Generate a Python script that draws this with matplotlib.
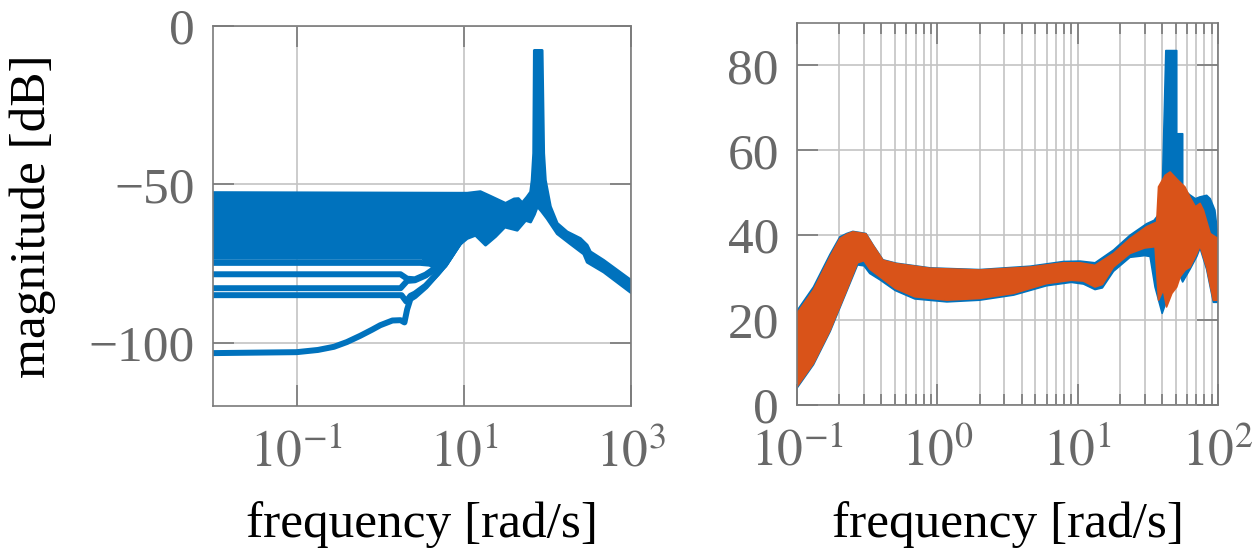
import numpy as np
import matplotlib
matplotlib.use('Agg')
import matplotlib.pyplot as plt
from matplotlib.ticker import FixedLocator, NullLocator, LogLocator

# ---- left panel: magnitude of the whole family of curves ----
# dense band (upper / lower boundary, dB)
band_top_f = [0.01, 8, 11, 15.8, 21, 31.6, 40, 45, 50, 57, 63, 65.6, 68.5, 69.8,
              86.5, 90.3, 94.6, 108.6, 131, 172, 248, 299, 327, 472, 1000]
band_top_db = [-52.6, -52.8, -52.8, -52.3, -53.8, -56.0, -54.6, -54.5, -55.8, -54.0,
               -52.4, -48.7, -40.2, -7.7, -7.7, -40.2, -48.7, -57.0, -62.3, -65.0,
               -67.1, -69.2, -71.3, -74.0, -80.3]
band_bot_f = [0.01, 3.2, 4.8, 6.0, 7.6, 9.0, 11, 13.8, 18.2, 24, 31, 43.6, 55, 63,
              70, 76, 85, 99, 131, 188, 272, 299, 472, 1000]
band_bot_db = [-73.4, -73.4, -77.5, -76.0, -72.0, -69.0, -67.1, -66.1, -69.2, -66.5,
               -63.5, -64.5, -61.4, -61.9, -59.5, -57.0, -58.5, -60.8, -65.6, -68.8,
               -72.0, -74.6, -77.7, -84.2]

# single curves below the band
line_a_f = [0.01, 3.0, 4.5, 5.5]
line_a_db = [-74.8, -74.8, -75.2, -74.5]
line_b_f = [0.01, 1.75, 2.1, 2.6, 3.5, 4.8, 6.5]
line_b_db = [-78.4, -78.4, -79.8, -80.0, -78.5, -76.0, -73.0]
line_c_f = [0.01, 1.75, 2.1, 2.6, 3.5, 4.8, 6.5]
line_c_db = [-82.8, -82.8, -80.5, -80.3, -78.8, -76.3, -73.3]
line_d_f = [0.01, 1.8, 2.05, 2.3, 2.6, 3.5, 4.8, 6.0, 7.6, 9.0]
line_d_db = [-85.0, -85.0, -87.0, -85.2, -84.5, -82.0, -78.2, -75.2, -71.0, -68.2]
line_e_f = [0.01, 0.1, 0.18, 0.28, 0.4, 0.58, 0.8, 1.0, 1.4, 1.75, 1.95, 2.1, 2.3,
            2.6, 3.5, 4.8, 6.0, 7.6, 9.0, 10.5]
line_e_db = [-103.3, -103.0, -102.3, -101.3, -99.8, -97.8, -95.9, -94.5, -93.0,
             -92.9, -93.6, -89.5, -86.2, -85.3, -82.3, -78.2, -75.2, -71.0, -68.0,
             -66.0]

# ---- right panel: two bands ----
blue_up_f = [0.1, 0.131, 0.172, 0.202, 0.226, 0.25, 0.31, 0.35, 0.41, 0.51, 0.89, 2.0,
             4.6, 7.9, 10.4, 13.3, 18, 23.6, 31, 35, 38, 40, 42.5, 50.8, 50.8, 56, 56,
             63, 69, 74, 83, 88, 95, 100]
blue_up_db = [22.2, 27.8, 35.5, 39.6, 40.4, 40.9, 40.4, 37.6, 34.2, 33.4, 32.3, 31.9,
              32.7, 33.8, 33.9, 33.5, 36.5, 40.0, 42.7, 43.5, 45.0, 49.0, 83.5, 83.5,
              63.9, 63.9, 51.0, 49.5, 48.6, 49.0, 49.4, 48.6, 45.9, 39.6]
blue_lo_f = [0.1, 0.131, 0.172, 0.226, 0.27, 0.30, 0.33, 0.39, 0.5, 0.69, 1.17, 2.0,
             3.5, 6.0, 9.0, 11, 13.3, 15, 18, 23.6, 30, 32.8, 35.6, 40, 44, 49, 54, 56,
             63.2, 70.6, 74.5, 83, 92.7, 100]
blue_lo_db = [4.0, 9.5, 17.3, 26.8, 33.0, 32.8, 31.0, 29.5, 27.0, 25.0, 24.3, 24.7,
              25.9, 28.1, 28.9, 28.5, 27.2, 27.6, 31.5, 34.8, 35.2, 35.0, 27.8, 21.6,
              25.5, 30.2, 30.2, 29.0, 32.0, 35.0, 37.0, 32.0, 24.2, 24.2]

orange_up_f = [0.1, 0.131, 0.172, 0.202, 0.226, 0.25, 0.31, 0.35, 0.41, 0.51, 0.89,
               2.0, 4.6, 7.9, 10.4, 13.3, 18, 23.6, 31, 36.6, 37.7, 42, 45.6, 52, 58,
               63, 69, 74.5, 78.7, 88, 100]
orange_up_db = [21.6, 27.1, 34.9, 39.2, 40.2, 40.8, 40.3, 37.5, 34.1, 33.3, 32.2,
                31.8, 32.5, 33.5, 33.5, 32.9, 35.7, 39.2, 42.0, 43.1, 51.4, 54.1, 54.9,
                52.9, 51.4, 49.0, 46.7, 47.5, 45.9, 40.4, 39.2]
orange_lo_f = [0.1, 0.131, 0.172, 0.226, 0.27, 0.30, 0.33, 0.39, 0.5, 0.69, 1.17, 2.0,
               3.5, 6.0, 9.0, 11, 13.3, 15, 18, 23.6, 30, 35.6, 37.7, 40.8, 43, 46.9,
               50.8, 53.7, 58.4, 63.2, 66.8, 70.6, 74.5, 83, 92.7, 100]
orange_lo_db = [4.3, 9.8, 17.6, 27.1, 33.5, 34.0, 32.0, 30.2, 27.5, 25.5, 24.7, 25.1,
                26.3, 28.6, 29.4, 29.2, 27.8, 28.4, 32.5, 35.7, 37.0, 37.3, 24.7, 27.1,
                23.1, 26.3, 27.8, 30.2, 31.8, 32.5, 34.1, 35.7, 37.5, 32.5, 24.7, 24.7]

BLUE = '#0072BD'
ORANGE = '#D95319'
GRID = '#c4c4c4'
AXC = '#7a7a7a'
LABC = '#686868'

plt.rcParams['font.family'] = ['Liberation Serif', 'DejaVu Serif']
plt.rcParams['mathtext.fontset'] = 'stix'
plt.rcParams['font.size'] = 37
plt.rcParams['axes.axisbelow'] = True


def band(ax, up_f, up_db, lo_f, lo_db, color, lw=1.2):
    xs = np.concatenate([up_f, lo_f[::-1]])
    ys = np.concatenate([up_db, lo_db[::-1]])
    ax.fill(xs, ys, color=color, lw=lw, ec=color, joinstyle='round')


def style(ax):
    for s in ax.spines.values():
        s.set_color(AXC)
        s.set_linewidth(1.2)
    ax.tick_params(which='both', direction='in', top=True, right=True,
                   color=AXC, width=1.2, labelcolor=LABC, pad=13)
    ax.tick_params(axis='x', pad=17)
    ax.tick_params(which='major', length=15)
    ax.tick_params(which='minor', length=8)


fig = plt.figure(figsize=(12.59, 5.48), dpi=100)

# left panel
ax1 = fig.add_axes([213 / 1259, 142 / 548, 418 / 1259, 380 / 548])
ax1.set_xscale('log')
band(ax1, band_top_f, band_top_db, band_bot_f, band_bot_db, BLUE, lw=2.0)
for f, db in [(line_a_f, line_a_db), (line_b_f, line_b_db), (line_c_f, line_c_db),
              (line_d_f, line_d_db), (line_e_f, line_e_db)]:
    ax1.plot(f, db, color=BLUE, lw=4.3, solid_joinstyle='round')
ax1.set_xlim(1e-2, 1e3)
ax1.set_ylim(-120, 0)
ax1.xaxis.set_major_locator(FixedLocator([1e-1, 1e1, 1e3]))
ax1.xaxis.set_minor_locator(NullLocator())
ax1.set_xticklabels([r'$10^{-1}$', r'$10^{1}$', r'$10^{3}$'])
ax1.set_yticks([-100, -50, 0])
ax1.grid(True, which='major', color=GRID, lw=1.2)
style(ax1)
ax1.set_ylabel('magnitude [dB]')
ax1.yaxis.set_label_coords(-0.375, 0.5)
ax1.set_xlabel('frequency [rad/s]')
ax1.xaxis.set_label_coords(0.5, -0.25)

# right panel
ax2 = fig.add_axes([797 / 1259, 143 / 548, 421 / 1259, 382 / 548])
ax2.set_xscale('log')
band(ax2, blue_up_f, blue_up_db, blue_lo_f, blue_lo_db, BLUE)
band(ax2, orange_up_f, orange_up_db, orange_lo_f, orange_lo_db, ORANGE)
ax2.set_xlim(1e-1, 1e2)
ax2.set_ylim(0, 90)
ax2.xaxis.set_major_locator(FixedLocator([1e-1, 1e0, 1e1, 1e2]))
ax2.xaxis.set_minor_locator(LogLocator(base=10, subs=np.arange(2, 10)))
ax2.xaxis.set_minor_formatter(plt.NullFormatter())
ax2.set_xticklabels([r'$10^{-1}$', r'$10^{0}$', r'$10^{1}$', r'$10^{2}$'])
ax2.set_yticks([0, 20, 40, 60, 80])
ax2.grid(True, which='both', color=GRID, lw=1.2)
style(ax2)
ax2.set_xlabel('frequency [rad/s]')
ax2.xaxis.set_label_coords(0.5, -0.251)

fig.savefig('out.png', dpi=100)
